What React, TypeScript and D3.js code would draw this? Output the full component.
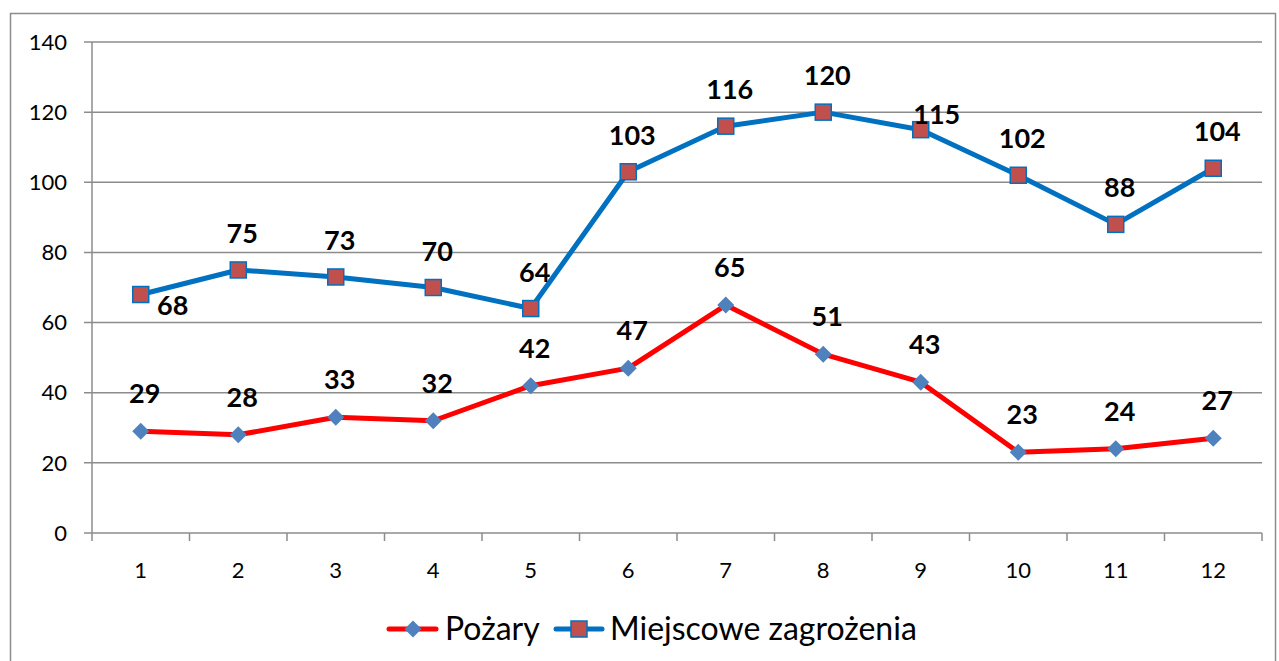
import React from "react";
import * as d3 from "d3";

const months = ["1", "2", "3", "4", "5", "6", "7", "8", "9", "10", "11", "12"];
const pozary = [29, 28, 33, 32, 42, 47, 65, 51, 43, 23, 24, 27];
const miejscowe = [68, 75, 73, 70, 64, 103, 116, 120, 115, 102, 88, 104];
const yTicks = [0, 20, 40, 60, 80, 100, 120, 140];

const font = "Lato, 'Open Sans', sans-serif";

export default function App() {
  const width = 1279, height = 661;
  const left = 92, right = 1262, top = 42, bottom = 533;

  const x = d3.scaleBand().domain(months).range([left, right]);
  const y = d3.scaleLinear().domain([0, 140]).range([bottom, top]);
  const cx = (i: number) => (x(months[i]) as number) + x.bandwidth() / 2;

  const line = d3.line<number>().x((_, i) => cx(i)).y(d => y(d));

  // label offsets: most sit above the point, a couple are pushed aside
  const blueOffset = (i: number) => {
    if (i === 0) return [32, 20];
    if (i === 8) return [16, -6];
    return [4, -27];
  };

  return (
    <svg width={width} height={height} style={{ position: "absolute", left: 0, top: 0 }}>
      <rect x={0} y={0} width={width} height={height} fill="white" />
      <rect x={10.5} y={13.5} width={1265} height={660} fill="none" stroke="#8c8c8c" strokeWidth={1.5} />

      {yTicks.map(t => (
        <g key={t}>
          <line x1={left - 8} x2={right} y1={y(t)} y2={y(t)} stroke="#8c8c8c" strokeWidth={1.5} />
          <text x={left - 25} y={y(t)} dy="0.35em" textAnchor="end" fontFamily={font} fontSize={22}>{t}</text>
        </g>
      ))}
      <line x1={left} x2={left} y1={top} y2={bottom + 8} stroke="#8c8c8c" strokeWidth={1.5} />
      {months.map((m, i) => (
        <g key={m}>
          <line x1={(x(m) as number) + x.bandwidth()} x2={(x(m) as number) + x.bandwidth()} y1={bottom} y2={bottom + 8} stroke="#8c8c8c" strokeWidth={1.5} />
          <text x={cx(i)} y={bottom + 45} textAnchor="middle" fontFamily={font} fontSize={22}>{m}</text>
        </g>
      ))}

      <path d={line(miejscowe) as string} fill="none" stroke="#0070c0" strokeWidth={5} strokeLinejoin="round" />
      <path d={line(pozary) as string} fill="none" stroke="#ff0000" strokeWidth={5} strokeLinejoin="round" />

      {miejscowe.map((v, i) => (
        <rect key={i} x={cx(i) - 8} y={y(v) - 8} width={16} height={16} fill="#c0504d" stroke="#0070c0" strokeWidth={1.5} />
      ))}
      {pozary.map((v, i) => (
        <path key={i} d={`M${cx(i)},${y(v) - 8.5}L${cx(i) + 8.5},${y(v)}L${cx(i)},${y(v) + 8.5}L${cx(i) - 8.5},${y(v)}Z`} fill="#4f81bd" />
      ))}

      {miejscowe.map((v, i) => {
        const [dx, dy] = blueOffset(i);
        return (
          <text key={i} x={cx(i) + dx} y={y(v) + dy} textAnchor="middle" fontFamily={font} fontWeight="bold" fontSize={27}>{v}</text>
        );
      })}
      {pozary.map((v, i) => (
        <text key={i} x={cx(i) + 4} y={y(v) - 28} textAnchor="middle" fontFamily={font} fontWeight="bold" fontSize={27}>{v}</text>
      ))}

      <g fontFamily={font} fontSize={32}>
        <line x1={389} x2={436} y1={629} y2={629} stroke="#ff0000" strokeWidth={5} strokeLinecap="round" />
        <path d="M413,620.5L421.5,629L413,637.5L404.5,629Z" fill="#4f81bd" />
        <text x={445} y={629} dy="0.35em">Pożary</text>
        <line x1={556} x2={602} y1={629} y2={629} stroke="#0070c0" strokeWidth={5} strokeLinecap="round" />
        <rect x={571} y={621} width={16} height={16} fill="#c0504d" stroke="#0070c0" strokeWidth={1.5} />
        <text x={610} y={629} dy="0.35em">Miejscowe zagrożenia</text>
      </g>
    </svg>
  );
}
